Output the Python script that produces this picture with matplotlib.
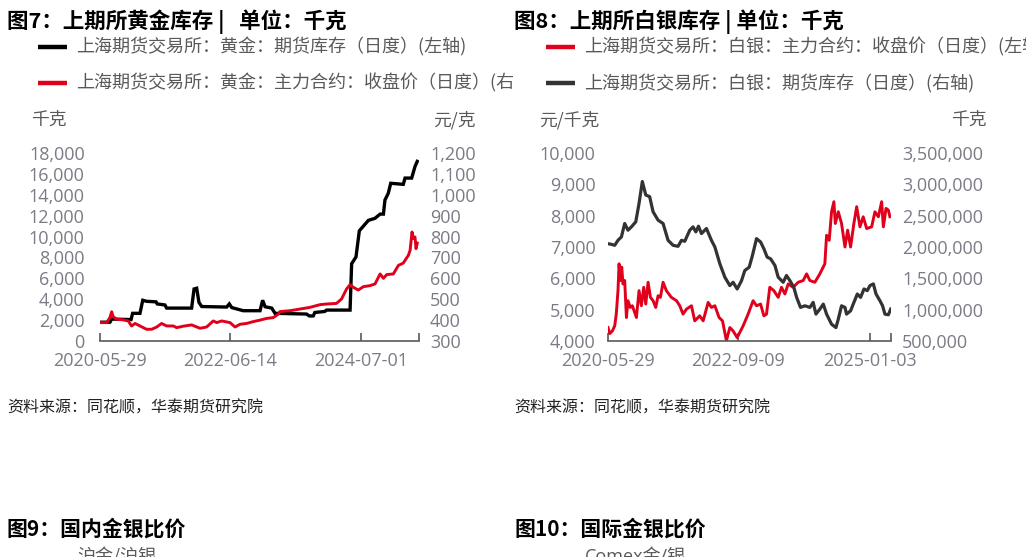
import matplotlib
matplotlib.use("Agg")
import matplotlib.pyplot as plt
import pandas as pd
from matplotlib.lines import Line2D
from matplotlib.ticker import FuncFormatter, MultipleLocator
from matplotlib.transforms import Bbox, TransformedBbox

plt.rcParams['font.family'] = ['Open Sans', 'Noto Sans CJK SC', 'DejaVu Sans']

# ---- 图7: gold, SHFE inventory (kg, left) and main contract close (yuan/g, right)
gold_inv_dates = ['2020-05-29', '2020-07-25', '2020-08-04', '2020-11-23', '2020-12-02',
                  '2021-01-13', '2021-01-29', '2021-02-20', '2021-04-15', '2021-04-22',
                  '2021-06-05', '2021-06-15', '2021-11-05', '2021-11-19', '2021-12-04',
                  '2021-12-17', '2022-01-02', '2022-05-25', '2022-06-09', '2022-06-23',
                  '2022-08-28', '2022-12-02', '2022-12-17', '2022-12-31', '2023-02-07',
                  '2023-02-26', '2023-08-26', '2023-09-10', '2023-10-03', '2023-10-12',
                  '2023-12-08', '2023-12-18', '2024-05-01', '2024-05-10', '2024-06-04',
                  '2024-06-23', '2024-08-14', '2024-09-21', '2024-10-20', '2024-11-08',
                  '2024-11-17', '2024-12-06', '2024-12-20', '2025-03-02', '2025-03-12',
                  '2025-04-19', '2025-05-08', '2025-05-21']
gold_inv = [1800, 1800, 2100, 2050, 2650, 2650, 3900, 3800, 3750, 3550,
            3450, 3150, 3150, 4980, 5050, 3700, 3300, 3250, 3550, 3200,
            2900, 2900, 3900, 3280, 3150, 2650, 2580, 2400, 2400, 2730,
            2830, 2960, 2960, 7400, 8050, 10550, 11550, 11750, 12150, 12150,
            13500, 14150, 15100, 15000, 15600, 15600, 16700, 17200]

gold_px_dates = ['2020-05-29', '2020-07-06', '2020-07-25', '2020-08-04', '2020-08-13',
                 '2020-09-02', '2020-10-10', '2020-11-07', '2020-11-26', '2020-12-16',
                 '2021-01-13', '2021-02-20', '2021-03-21', '2021-04-19', '2021-05-17',
                 '2021-06-15', '2021-07-23', '2021-08-11', '2021-09-19', '2021-11-05',
                 '2021-12-23', '2022-01-30', '2022-03-09', '2022-03-29', '2022-04-26',
                 '2022-06-13', '2022-07-12', '2022-08-09', '2022-09-16', '2022-10-25',
                 '2022-12-02', '2023-01-09', '2023-02-16', '2023-03-17', '2023-03-27',
                 '2023-05-23', '2023-07-19', '2023-09-14', '2023-11-11', '2023-12-18',
                 '2024-02-13', '2024-03-13', '2024-04-11', '2024-05-01', '2024-05-20',
                 '2024-06-17', '2024-07-16', '2024-08-23', '2024-09-21', '2024-10-20',
                 '2024-11-08', '2024-11-27', '2025-01-04', '2025-02-02', '2025-03-02',
                 '2025-03-31', '2025-04-10', '2025-04-21', '2025-04-29', '2025-05-08',
                 '2025-05-14', '2025-05-21']
gold_px = [388, 388, 412, 440, 416, 404, 401, 396, 372, 384,
           372, 356, 356, 367, 384, 372, 372, 364, 371, 377,
           361, 367, 396, 388, 396, 388, 367, 380, 384, 393,
           400, 408, 412, 429, 441, 445, 453, 461, 474, 477,
           480, 501, 549, 570, 557, 544, 560, 565, 573, 621,
           600, 618, 621, 662, 673, 710, 734, 822, 790, 798,
           742, 769]

# ---- 图8: silver, main contract close (yuan/kg, left) and SHFE inventory (kg, right)
silver_px_dates = ['2020-05-29', '2020-06-09', '2020-06-26', '2020-07-11', '2020-07-21',
                   '2020-08-01', '2020-08-08', '2020-08-16', '2020-08-25', '2020-09-02',
                   '2020-09-13', '2020-09-24', '2020-10-04', '2020-10-19', '2020-11-01',
                   '2020-11-16', '2020-11-27', '2020-12-14', '2020-12-29', '2021-01-13',
                   '2021-01-26', '2021-02-10', '2021-02-25', '2021-03-14', '2021-03-31',
                   '2021-04-15', '2021-04-30', '2021-05-17', '2021-06-07', '2021-07-09',
                   '2021-08-11', '2021-09-01', '2021-09-22', '2021-10-14', '2021-11-15',
                   '2021-12-06', '2022-01-07', '2022-01-29', '2022-03-02', '2022-03-23',
                   '2022-04-14', '2022-05-11', '2022-06-02', '2022-06-27', '2022-07-19',
                   '2022-08-09', '2022-09-04', '2022-10-12', '2022-11-13', '2022-12-15',
                   '2023-01-06', '2023-02-01', '2023-02-22', '2023-03-11', '2023-04-01',
                   '2023-04-27', '2023-05-25', '2023-06-15', '2023-07-07', '2023-07-28',
                   '2023-08-29', '2023-09-30', '2023-11-01', '2023-11-23', '2023-12-14',
                   '2024-01-15', '2024-02-16', '2024-03-19', '2024-03-30', '2024-04-16',
                   '2024-05-01', '2024-05-16', '2024-05-25', '2024-06-13', '2024-07-04',
                   '2024-07-26', '2024-08-12', '2024-08-31', '2024-09-21', '2024-10-09',
                   '2024-10-30', '2024-11-20', '2024-12-12', '2025-01-13', '2025-02-03',
                   '2025-02-25', '2025-03-18', '2025-03-29', '2025-04-15', '2025-04-30',
                   '2025-05-10']
silver_px = [4430, 4236, 4321, 4482, 4857, 5607, 6464, 5929, 6357, 5821,
             5929, 4750, 5286, 5071, 5125, 4911, 4750, 5607, 5125, 5714,
             5179, 5875, 5393, 5286, 5071, 5446, 5393, 5875, 5607, 5393,
             5286, 5125, 4857, 5018, 5125, 4643, 4804, 4643, 5232, 5071,
             5125, 4750, 4643, 4010, 4429, 4321, 4107, 4482, 4857, 5286,
             5125, 5179, 4804, 4857, 5714, 5607, 5393, 5714, 5500, 5821,
             5714, 5875, 5929, 6143, 5929, 5875, 6143, 6464, 7375, 7214,
             8125, 8446, 7750, 8125, 7750, 7000, 7536, 7000, 7750, 8286,
             7643, 7964, 7589, 7643, 8125, 7964, 8446, 7643, 8232, 8179,
             7964]

silver_inv_dates = ['2020-05-29', '2020-06-19', '2020-07-11', '2020-08-01', '2020-08-23',
                    '2020-09-13', '2020-10-04', '2020-10-26', '2020-11-23', '2020-12-14',
                    '2021-01-04', '2021-01-26', '2021-02-20', '2021-03-14', '2021-04-15',
                    '2021-05-17', '2021-06-18', '2021-07-20', '2021-08-21', '2021-09-12',
                    '2021-10-03', '2021-11-04', '2021-11-25', '2021-12-13', '2021-12-30',
                    '2022-01-18', '2022-02-19', '2022-03-23', '2022-04-14', '2022-05-16',
                    '2022-06-17', '2022-07-19', '2022-08-09', '2022-09-04', '2022-10-02',
                    '2022-10-23', '2022-11-20', '2022-12-11', '2023-01-06', '2023-02-01',
                    '2023-02-22', '2023-03-15', '2023-04-06', '2023-05-04', '2023-05-25',
                    '2023-06-26', '2023-07-17', '2023-08-08', '2023-09-02', '2023-09-20',
                    '2023-10-15', '2023-11-12', '2023-12-14', '2024-01-04', '2024-01-22',
                    '2024-02-16', '2024-03-09', '2024-03-30', '2024-05-01', '2024-05-29',
                    '2024-06-13', '2024-07-04', '2024-07-26', '2024-08-05', '2024-08-31',
                    '2024-09-17', '2024-10-13', '2024-11-03', '2024-11-25', '2024-12-16',
                    '2025-01-02', '2025-01-24', '2025-02-10', '2025-03-07', '2025-03-24',
                    '2025-04-08', '2025-04-30', '2025-05-15']
silver_inv = [2053000, 2043000, 2027000, 2107000, 2161000, 2375000, 2268000, 2321000,
              2402000, 2696000, 3045000, 2830000, 2803000, 2562000, 2428000, 2375000,
              2107000, 2027000, 2011000, 2107000, 2091000, 2268000, 2321000, 2241000,
              2332000, 2214000, 2295000, 2107000, 2000000, 1732000, 1518000, 1384000,
              1437000, 1330000, 1464000, 1625000, 1678000, 1866000, 2134000, 2080000,
              1973000, 1839000, 1812000, 1705000, 1518000, 1437000, 1545000, 1464000,
              1357000, 1196000, 1036000, 1062000, 1036000, 1116000, 929000, 1009000,
              1089000, 929000, 768000, 714000, 848000, 1062000, 1036000, 929000,
              982000, 1089000, 1250000, 1196000, 1330000, 1304000, 1384000, 1411000,
              1250000, 1143000, 1062000, 929000, 918000, 1009000]

gold_ticks = ['2020-05-29', '2022-06-14', '2024-07-01']
gold_end = '2025-05-31'
silver_ticks = ['2020-05-29', '2022-09-09', '2025-01-03']
silver_end = '2025-05-17'

RED = '#e0001b'
BLACK = '#000000'
DARK = '#333333'
TICK_GRAY = '#7b7b86'
TEXT_GRAY = '#595959'

W, H = 1026, 557
fig = plt.figure(figsize=(W / 100, H / 100), dpi=100)


def fx(px):
    return px / W


def fy(py):
    return 1 - py / H


def style_axes(ax, ax2, ticks, end, pads):
    for a in (ax, ax2):
        for s in a.spines.values():
            s.set_visible(False)
        a.tick_params(axis='y', length=0, labelsize=13, labelcolor=TICK_GRAY)
    ax.tick_params(axis='y', pad=pads[0])
    ax2.tick_params(axis='y', pad=pads[1])
    ax.spines['bottom'].set_visible(True)
    ax.spines['bottom'].set_color('#595959')
    ax.spines['bottom'].set_linewidth(1.2)
    tick_dates = pd.to_datetime(ticks + [end])
    ax.set_xlim(tick_dates[0], tick_dates[-1])
    ax.set_xticks(tick_dates)
    ax.set_xticklabels(ticks + [''])
    ax.tick_params(axis='x', direction='in', length=6, width=1.2, color='#595959',
                   labelsize=13, labelcolor=TICK_GRAY, pad=8)
    ax.set_facecolor('none')
    ax2.set_facecolor('none')


comma = FuncFormatter(lambda v, p: f'{v:,.0f}')

# ---------------- left panel ----------------
ax1 = fig.add_axes([fx(100), fy(341), fx(319), (341 - 153) / H])
ax1b = ax1.twinx()
l_gold_inv, = ax1.plot(pd.to_datetime(gold_inv_dates), gold_inv, color=BLACK, lw=2.4,
                       solid_joinstyle='miter')
l_gold_px, = ax1b.plot(pd.to_datetime(gold_px_dates), gold_px, color=RED, lw=2.1)
ax1.set_ylim(0, 18000)
ax1.yaxis.set_major_locator(MultipleLocator(2000))
ax1.yaxis.set_major_formatter(comma)
ax1b.set_ylim(300, 1200)
ax1b.yaxis.set_major_locator(MultipleLocator(100))
ax1b.yaxis.set_major_formatter(comma)
style_axes(ax1, ax1b, gold_ticks, gold_end, (11, 8))

# ---------------- right panel ----------------
ax2 = fig.add_axes([fx(608), fy(341), fx(283), (341 - 153) / H])
ax2b = ax2.twinx()
l_silver_px, = ax2.plot(pd.to_datetime(silver_px_dates), silver_px, color=RED, lw=2.1)
l_silver_inv, = ax2b.plot(pd.to_datetime(silver_inv_dates), silver_inv, color=DARK, lw=2.3)
ax2.set_ylim(4000, 10000)
ax2.yaxis.set_major_locator(MultipleLocator(1000))
ax2.yaxis.set_major_formatter(comma)
ax2b.set_ylim(500000, 3500000)
ax2b.yaxis.set_major_locator(MultipleLocator(500000))
ax2b.yaxis.set_major_formatter(comma)
style_axes(ax2, ax2b, silver_ticks, silver_end, (9, 8))

# ---------------- titles, legends, units ----------------
cjk = ['Noto Sans CJK SC', 'DejaVu Sans']
left_clip = TransformedBbox(Bbox.from_extents(0, 0, 512.5 / W, 1), fig.transFigure)

fig.text(fx(7), fy(22), '图7：上期所黄金库存 |   单位：千克', family=cjk, fontsize=15.5,
         fontweight='bold', va='center', ha='left')
fig.text(fx(514), fy(22), '图8：上期所白银库存 | 单位：千克', family=cjk, fontsize=15.5,
         fontweight='bold', va='center', ha='left')


def legend_row(x_key, x_text, y, line, label, clip=None):
    fig.add_artist(Line2D([fx(x_key), fx(x_key + 29)], [fy(y), fy(y)],
                          transform=fig.transFigure, color=line.get_color(), lw=3.2,
                          solid_capstyle='butt'))
    t = fig.text(fx(x_text), fy(y), label, family=cjk, fontsize=13, color=TEXT_GRAY,
                 va='center', ha='left')
    if clip is not None:
        t.set_clip_box(clip)
        t.set_clip_on(True)


legend_row(38, 76, 47, l_gold_inv, '上海期货交易所：黄金：期货库存（日度）(左轴)', left_clip)
legend_row(38, 76, 83, l_gold_px, '上海期货交易所：黄金：主力合约：收盘价（日度）(右轴)', left_clip)
legend_row(546, 584, 47, l_silver_px, '上海期货交易所：白银：主力合约：收盘价（日度）(左轴)')
legend_row(546, 584, 83, l_silver_inv, '上海期货交易所：白银：期货库存（日度）(右轴)')

for x, s in [(31, '千克'), (433, '元/克'), (539, '元/千克'), (951, '千克')]:
    fig.text(fx(x), fy(120), s, family=cjk, fontsize=12.8, color=TEXT_GRAY,
             va='center', ha='left')

for x in (7, 514):
    fig.text(fx(x), fy(408), '资料来源：同花顺，华泰期货研究院', family=cjk, fontsize=11.5,
             style='italic', color='#222222', va='center', ha='left')

# next figures, cut off at the bottom of the page
fig.text(fx(7), fy(529), '图9：国内金银比价', family=cjk, fontsize=15,
         fontweight='bold', va='center', ha='left')
fig.text(fx(514), fy(529), '图10：国际金银比价', family=cjk, fontsize=15,
         fontweight='bold', va='center', ha='left')
fig.text(fx(77), fy(557), '沪金/沪银', family=cjk, fontsize=13, color=TEXT_GRAY,
         va='center', ha='left')
fig.text(fx(585), fy(557), 'Comex金/银', family=['Open Sans', 'Noto Sans CJK SC'],
         fontsize=13, color=TEXT_GRAY, va='center', ha='left')

fig.savefig('out.png', dpi=100)
